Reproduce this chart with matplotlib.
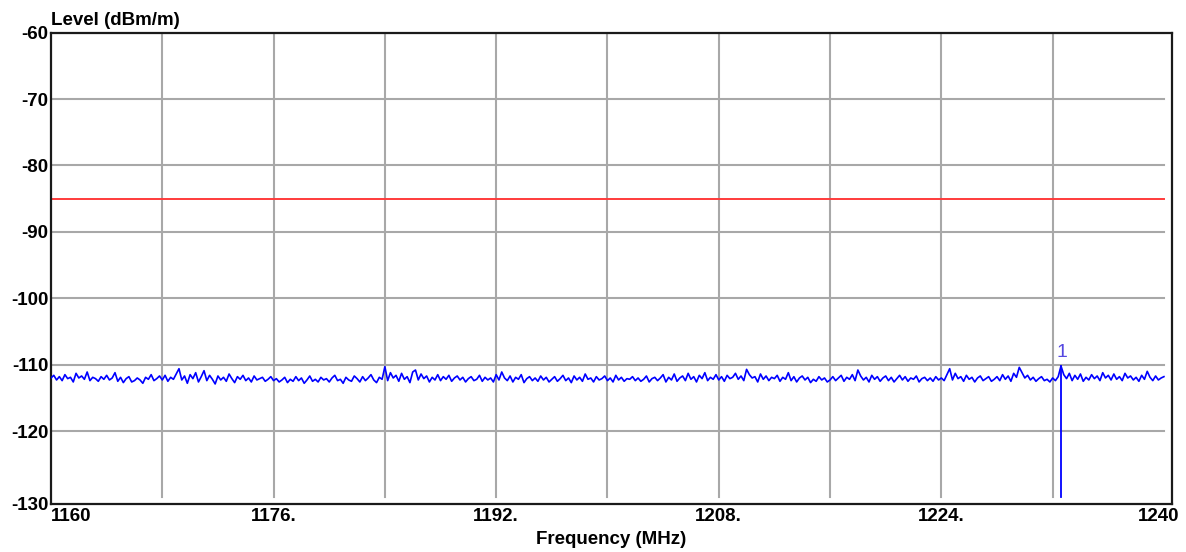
import numpy as np
import matplotlib
matplotlib.use("Agg")
import matplotlib.pyplot as plt
from matplotlib.transforms import ScaledTranslation

plt.rcParams["font.family"] = ["Liberation Sans", "DejaVu Sans"]
plt.rcParams["font.weight"] = "bold"

F_START, F_STOP = 1160.0, 1240.0
LIMIT_LINE = -85.0
MARKER_FREQ = 1232.6
MARKER_LEVEL = -110.2
MARKER_LABEL = "1"

x_ticks = [1160, 1176, 1192, 1208, 1224, 1240]
x_tick_labels = ["1160", "1176.", "1192.", "1208.", "1224.", "1240"]
y_grid = [-120, -110, -100, -90, -80, -70, -60]
y_tick_labels = ["-130", "-120", "-110", "-100", "-90", "-80", "-70", "-60"]

# measured trace, 0.2 MHz steps, one row = 4 MHz
level = [
    -112.0, -111.6, -112.3, -111.8, -112.4, -111.5, -112.1, -111.9, -112.6, -111.3, -112.0, -111.7, -112.2, -111.1, -112.4, -111.9, -112.1, -112.5, -111.8, -112.2,
    -111.6, -112.3, -112.0, -111.2, -112.5, -111.9, -112.7, -112.1, -111.8, -112.6, -112.4, -112.0, -112.3, -112.8, -111.9, -112.2, -111.5, -112.4, -112.1, -111.7,
    -112.3, -111.6, -112.5, -111.9, -112.2, -111.4, -110.6, -112.3, -111.7, -112.8, -111.5, -112.1, -111.2, -112.6, -111.8, -110.9, -112.4, -111.6, -112.2, -112.9,
    -111.7, -112.3, -111.9, -112.5, -111.4, -112.1, -112.7, -111.8, -112.2, -111.6, -112.4, -112.0, -112.6, -111.7, -112.3, -112.1, -111.9, -112.5, -112.2, -111.8,
    -112.4, -112.1, -112.6, -112.3, -111.9, -112.7, -112.2, -112.5, -111.8, -112.4, -112.0, -112.8, -112.3, -111.7, -112.5, -112.2, -112.6, -111.9, -112.3, -112.1,
    -112.6, -112.0, -111.6, -112.4, -112.2, -112.8, -111.9, -112.3, -112.5, -111.7, -112.1, -112.6, -111.8, -112.4, -112.0, -111.5, -112.3, -112.7, -111.9, -112.2,
    -110.3, -112.4, -111.2, -112.0, -111.6, -112.5, -111.3, -112.2, -111.8, -112.7, -111.1, -110.8, -112.3, -111.4, -112.1, -111.7, -112.6, -111.9, -112.3, -111.5,
    -112.4, -111.8, -112.2, -111.6, -112.5, -112.0, -111.7, -112.3, -111.9, -112.6, -112.1, -111.8, -112.4, -112.2, -111.6, -112.5, -111.9, -112.3, -112.0, -112.6,
    -111.5, -112.3, -111.1, -112.0, -112.4, -111.7, -112.6, -111.9, -112.2, -111.5, -112.7, -112.1, -111.8, -112.4, -112.0, -112.5, -111.7, -112.3, -111.9, -112.6,
    -112.2, -111.8, -112.5, -112.1, -111.6, -112.4, -112.0, -112.7, -111.7, -112.3, -111.9, -112.5, -111.4, -112.2, -112.0, -112.6, -111.8, -112.3, -112.1, -111.7,
    -112.4, -112.0, -112.6, -111.6, -112.3, -111.9, -112.5, -112.1, -112.2, -111.8, -112.4, -112.0, -112.5, -112.2, -111.7, -112.6, -112.1, -111.9, -112.4, -112.0,
    -111.5, -112.6, -111.9, -112.3, -111.4, -112.5, -112.0, -111.7, -112.4, -111.3, -112.2, -111.8, -112.6, -111.6, -112.1, -111.2, -112.4, -111.9, -112.2, -111.5,
    -112.3, -111.8, -112.5, -111.6, -112.1, -111.9, -111.3, -112.2, -111.7, -112.4, -110.7, -111.5, -112.0, -111.8, -112.6, -111.4, -112.2, -111.7, -112.4, -111.9,
    -112.1, -111.6, -112.5, -111.9, -112.2, -111.2, -112.4, -111.8, -112.6, -112.0, -111.7, -112.3, -111.9, -112.7, -112.2, -112.5, -111.8, -112.3, -112.0, -112.6,
    -112.3, -111.8, -112.4, -112.0, -111.6, -112.5, -111.9, -112.2, -111.5, -112.4, -110.8, -111.7, -112.3, -111.9, -112.6, -111.6, -112.2, -111.8, -112.5, -112.0,
    -111.7, -112.4, -111.9, -112.6, -112.1, -111.6, -112.3, -111.8, -112.5, -112.0, -112.2, -111.7, -112.6, -112.1, -111.9, -112.4, -112.0, -112.5, -111.8, -112.3,
    -112.0, -112.4, -111.5, -110.6, -112.3, -111.3, -112.1, -111.8, -112.5, -111.6, -112.2, -111.9, -112.6, -112.0, -111.7, -112.4, -112.1, -111.8, -112.5, -112.2,
    -111.8, -112.4, -111.5, -112.2, -111.7, -112.5, -111.3, -111.9, -110.4, -111.2, -112.0, -111.6, -112.3, -111.9, -112.5, -112.1, -111.8, -112.4, -112.2, -112.6,
    -112.0, -112.4, -111.8, -110.2, -111.5, -112.1, -111.3, -112.4, -111.6, -112.2, -111.4, -112.5, -111.9, -112.3, -111.5, -112.1, -111.7, -112.4, -111.2, -112.0,
    -111.6, -112.3, -111.4, -112.2, -111.8, -112.4, -111.3, -112.0, -111.7, -112.3, -111.9, -112.5, -111.6, -112.2, -111.0, -111.9, -112.4, -111.7, -112.3, -112.0,
    -111.8,
]
freq = np.linspace(F_START, F_STOP, len(level))

Y_MIN, Y_MAX = -130.0, -60.0
# the frame sits a few pixels outside the data area on the right and bottom
X_EDGE = F_STOP + 0.58
Y_EDGE = Y_MIN - 0.98

fig = plt.figure(figsize=(11.86, 5.52), dpi=100)
ax = fig.add_axes([51 / 1186, 1 - 504 / 552, (1172 - 51) / 1186, (504 - 32.7) / 552])

grid_kw = dict(color="#a8a8a8", lw=1.5, zorder=1)
for f in np.arange(F_START + 8, F_STOP, 8):
    ax.plot([f, f], [Y_MIN, Y_MAX], **grid_kw)
for y in y_grid:
    ax.plot([F_START, F_STOP], [y, y], **grid_kw)

ax.plot([F_START, F_STOP], [LIMIT_LINE, LIMIT_LINE], color="#ff3b3b", lw=1.4, zorder=2)
ax.plot(freq, level, color="#0000ff", lw=1.2, zorder=3)

ax.plot([MARKER_FREQ, MARKER_FREQ], [Y_MIN, MARKER_LEVEL], color="#0000ff", lw=1.3, zorder=4)
ax.text(MARKER_FREQ + 0.1, MARKER_LEVEL + 0.8, MARKER_LABEL, color="#5548e0",
        fontsize=14, fontweight="normal", ha="center", va="bottom")

ax.set_xlim(F_START, X_EDGE)
ax.set_ylim(Y_EDGE, Y_MAX)

ax.set_xticks(x_ticks)
ax.set_xticklabels(x_tick_labels, fontsize=13.5, fontweight="bold")
ax.set_yticks([Y_EDGE] + y_grid)
ax.set_yticklabels(y_tick_labels, fontsize=13.5, fontweight="bold")
ax.tick_params(axis="both", length=0)
ax.tick_params(axis="x", pad=3)
ax.tick_params(axis="y", pad=2)

xl = ax.get_xticklabels()
xl[0].set_ha("left")
xl[-1].set_transform(xl[-1].get_transform() + ScaledTranslation(-5 / 100, 0, fig.dpi_scale_trans))

for s in ax.spines.values():
    s.set_color("#1a1a1a")
    s.set_linewidth(1.6)

ax.text(0, 1, "Level (dBm/m)", transform=ax.transAxes + ScaledTranslation(0, 4 / 100, fig.dpi_scale_trans),
        fontsize=13.5, fontweight="bold", ha="left", va="bottom")
fig.text(611 / 1186, 1 - 540 / 552, "Frequency (MHz)", fontsize=13.5, fontweight="bold",
         ha="center", va="center")

fig.savefig("out.png", dpi=100)
